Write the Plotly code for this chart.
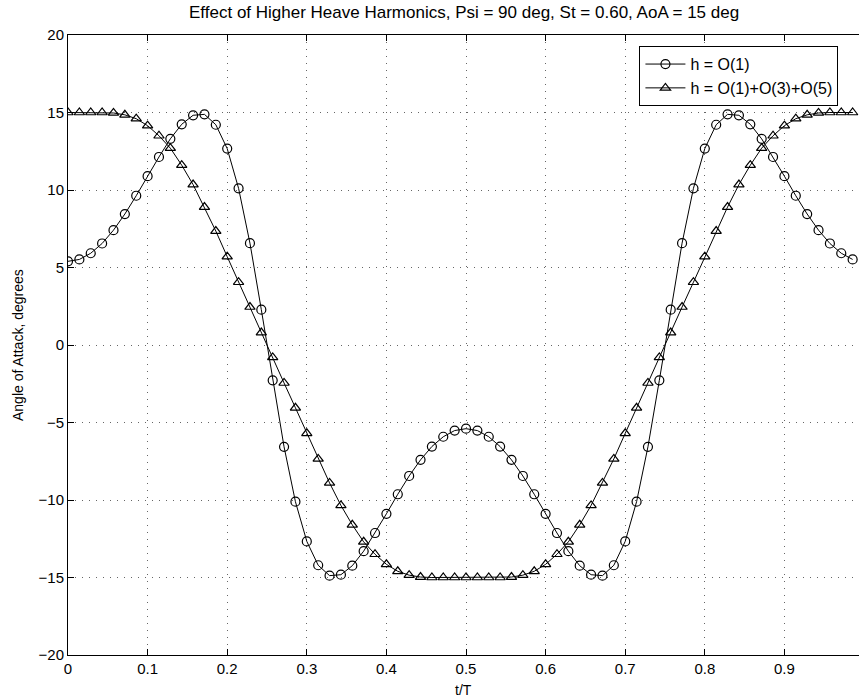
import plotly.graph_objects as go

# sample times t/T (70 samples over one period)
t = [k / 70 for k in range(70)]

# h = O(1)  (open circles)
aoa_o1 = [5.4, 5.52, 5.92, 6.55, 7.41, 8.45, 9.63, 10.89, 12.13, 13.30,
          14.24, 14.82, 14.88, 14.21, 12.67, 10.11, 6.57, 2.28,
          -2.28, -6.57, -10.11, -12.67, -14.21, -14.88, -14.82, -14.24, -13.30, -12.13,
          -10.89, -9.63, -8.45, -7.41, -6.55, -5.92, -5.52, -5.4,
          -5.52, -5.92, -6.55, -7.41, -8.45, -9.63, -10.89, -12.13, -13.30, -14.24,
          -14.82, -14.88, -14.21, -12.67, -10.11, -6.57, -2.28,
          2.28, 6.57, 10.11, 12.67, 14.21, 14.88, 14.82, 14.24, 13.30, 12.13,
          10.89, 9.63, 8.45, 7.41, 6.55, 5.92, 5.52]

# h = O(1)+O(3)+O(5)  (open triangles)
aoa_o135 = [15.0, 15.0, 15.0, 15.0, 14.97, 14.85, 14.6, 14.15, 13.5, 12.7,
            11.6, 10.35, 8.9, 7.35, 5.7, 4.05, 2.45, 0.8,
            -0.8, -2.45, -4.05, -5.7, -7.35, -8.9, -10.35, -11.6, -12.7, -13.5,
            -14.15, -14.6, -14.85, -14.97, -15.0, -15.0, -15.0, -15.0,
            -15.0, -15.0, -15.0, -14.97, -14.85, -14.6, -14.15, -13.5, -12.7, -11.6,
            -10.35, -8.9, -7.35, -5.7, -4.05, -2.45, -0.8,
            0.8, 2.45, 4.05, 5.7, 7.35, 8.9, 10.35, 11.6, 12.7, 13.5,
            14.15, 14.6, 14.85, 14.97, 15.0, 15.0, 15.0]

x_ticks = [0, 0.1, 0.2, 0.3, 0.4, 0.5, 0.6, 0.7, 0.8, 0.9]
x_tick_labels = ["0", "0.1", "0.2", "0.3", "0.4", "0.5", "0.6", "0.7", "0.8", "0.9"]
y_ticks = [-20, -15, -10, -5, 0, 5, 10, 15, 20]

title_text = "Effect of Higher Heave Harmonics, Psi = 90 deg, St = 0.60, AoA = 15 deg"
FONT = "Liberation Sans, Arial, Helvetica, sans-serif"

fig = go.Figure()
fig.add_trace(go.Scatter(
    x=t, y=aoa_o1, mode="lines+markers", name="h = O(1)",
    line=dict(color="black", width=1),
    marker=dict(symbol="circle-open", size=9, color="black", line=dict(width=1.2)),
))
fig.add_trace(go.Scatter(
    x=t, y=aoa_o135, mode="lines+markers", name="h = O(1)+O(3)+O(5)",
    line=dict(color="black", width=1),
    marker=dict(symbol="triangle-up-open", size=9, color="black", line=dict(width=1.2)),
))

fig.update_layout(
    width=859, height=700,
    margin=dict(l=68, r=0, t=35, b=45),
    paper_bgcolor="white", plot_bgcolor="white",
    font=dict(family=FONT, size=15, color="black"),
    showlegend=True,
    legend=dict(x=0.974, xanchor="right", y=0.982, yanchor="top",
                bgcolor="white", bordercolor="black", borderwidth=1,
                font=dict(size=16), itemwidth=40, tracegroupgap=0),
    annotations=[
        dict(text=title_text, xref="paper", yref="paper", x=0.5, y=1,
             yshift=23, showarrow=False, font=dict(size=17), xanchor="center", yanchor="middle"),
        dict(text="Angle of Attack, degrees", xref="paper", yref="paper", x=0, y=0.5,
             xshift=-50, textangle=-90, showarrow=False, font=dict(size=14),
             xanchor="center", yanchor="middle"),
        dict(text="t/T", xref="paper", yref="paper", x=0.5, y=0,
             yshift=-35, showarrow=False, font=dict(size=14),
             xanchor="center", yanchor="middle"),
    ],
)

fig.update_xaxes(
    range=[0, 0.9937], tickvals=x_ticks, ticktext=x_tick_labels,
    ticks="inside", ticklen=6, tickcolor="black", tickwidth=1,
    showline=True, linecolor="black", linewidth=1, mirror="ticks",
    showgrid=True, gridcolor="#666", gridwidth=1, griddash="1px,6px",
    zeroline=False, tickfont=dict(size=15),
)
fig.update_yaxes(
    range=[-20, 20], tickvals=y_ticks,
    ticks="inside", ticklen=6, tickcolor="black", tickwidth=1,
    showline=True, linecolor="black", linewidth=1, mirror=False,
    showgrid=True, gridcolor="#666", gridwidth=1, griddash="1px,6px",
    zeroline=False, tickfont=dict(size=15),
)

fig.write_html("out.html")
